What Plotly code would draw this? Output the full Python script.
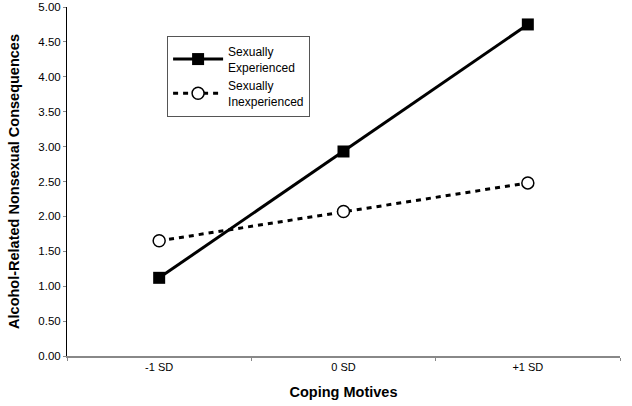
import plotly.graph_objects as go

categories = ["-1 SD", "0 SD", "+1 SD"]
experienced = [1.12, 2.93, 4.75]
inexperienced = [1.65, 2.07, 2.48]
y_ticks = [0, 0.5, 1, 1.5, 2, 2.5, 3, 3.5, 4, 4.5, 5]

fig = go.Figure()
fig.add_trace(go.Scatter(
    x=categories, y=experienced, name="Sexually<br>Experienced",
    mode="lines+markers",
    line=dict(color="black", width=3),
    marker=dict(symbol="square", size=12, color="black"),
))
fig.add_trace(go.Scatter(
    x=categories, y=inexperienced, name="Sexually<br>Inexperienced",
    mode="lines+markers",
    line=dict(color="black", width=3, dash="5px,5px"),
    marker=dict(symbol="circle", size=12, color="white", line=dict(color="black", width=1.5)),
))

fig.update_layout(
    width=632, height=406,
    margin=dict(l=67, r=12, t=7, b=50),
    plot_bgcolor="white", paper_bgcolor="white",
    font=dict(family="Liberation Sans, Arial, sans-serif", size=11, color="black"),
    legend=dict(
        x=0.181, y=0.917, xanchor="left", yanchor="top",
        bordercolor="#555555", borderwidth=1, bgcolor="white",
        font=dict(size=12), tracegroupgap=0, itemwidth=50,
        entrywidth=145,
    ),
)
fig.update_xaxes(
    type="category", range=[-0.5, 2.5], automargin=False,
    showline=True, linecolor="#888888", linewidth=2,
    ticks="outside", tickson="boundaries", ticklen=3, tickcolor="#888888",
    showgrid=False, zeroline=False,
    title=dict(text="<b>Coping Motives</b>", font=dict(size=14.5)),
    tickfont=dict(size=11),
)
fig.update_yaxes(
    range=[0, 5], tickvals=y_ticks, tickformat=".2f", automargin=False,
    showline=True, linecolor="black", linewidth=1,
    ticks="outside", ticklen=3, tickcolor="#888888",
    showgrid=False, zeroline=False,
    title=dict(text="<b>Alcohol-Related Nonsexual Consequences</b>", font=dict(size=14.5)),
    tickfont=dict(size=11.5),
)

fig.write_html("out.html", config={"displayModeBar": False},
               post_script="document.body.style.margin='0';")
